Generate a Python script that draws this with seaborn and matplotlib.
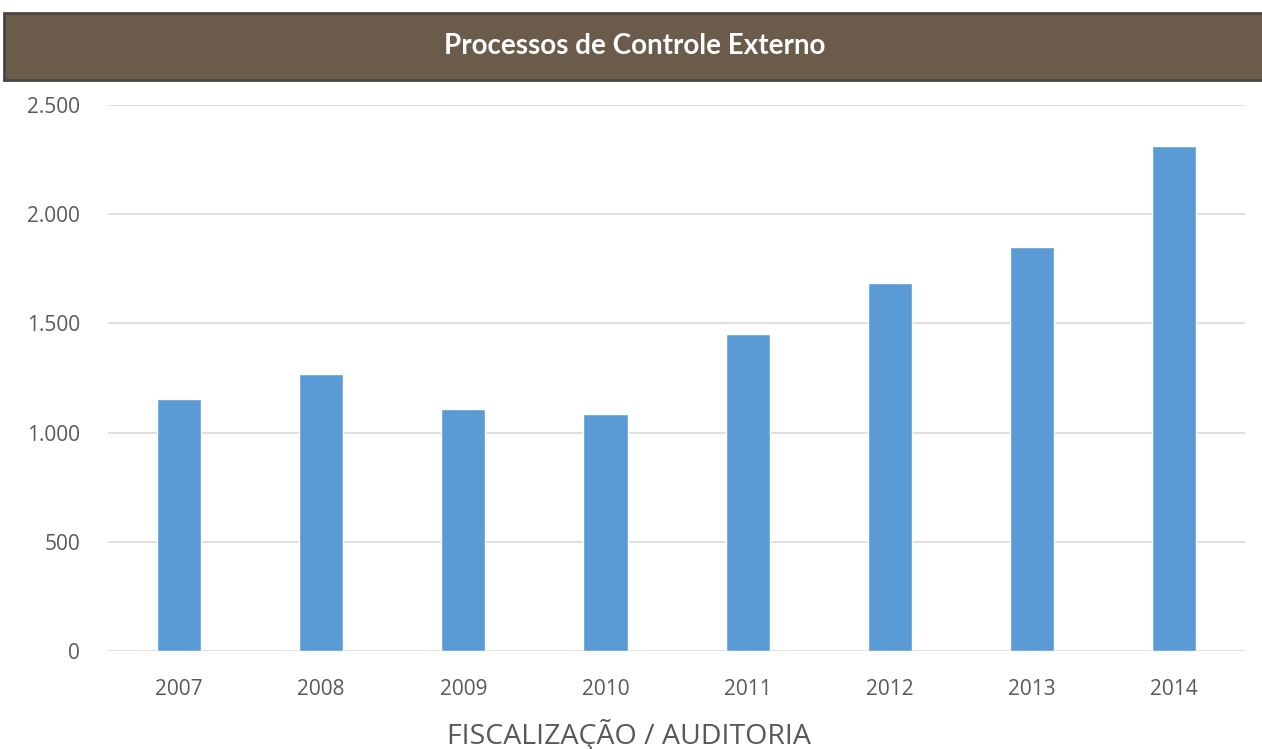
import matplotlib
matplotlib.use("Agg")
import matplotlib.pyplot as plt
from matplotlib.patches import Rectangle
from matplotlib.ticker import FuncFormatter
import seaborn as sns
import pandas as pd

# data
anos = ["2007", "2008", "2009", "2010", "2011", "2012", "2013", "2014"]
processos = [1155, 1268, 1110, 1083, 1450, 1683, 1852, 2313]
y_ticks = [0, 500, 1000, 1500, 2000, 2500]

titulo = "Processos de Controle Externo"
rotulo_x = "FISCALIZAÇÃO / AUDITORIA"

df = pd.DataFrame({"ano": anos, "processos": processos})

sns.set_theme(style="white")
plt.rcParams["font.family"] = ["Open Sans", "DejaVu Sans"]

fig = plt.figure(figsize=(12.62, 7.49), dpi=100)
ax = fig.add_axes([0.0856, 0.1308, 0.901, 0.729])

sns.barplot(data=df, x="ano", y="processos", color="#5b9bd5", width=0.31,
            saturation=1, ax=ax, zorder=3)

ax.set_ylim(0, 2500)
ax.set_yticks(y_ticks)
ax.yaxis.set_major_formatter(FuncFormatter(lambda v, p: f"{int(v):,}".replace(",", ".")))
ax.grid(axis="y", color="#d9d9d9", linewidth=1.2, zorder=0)
ax.grid(axis="x", visible=False)
for s in ax.spines.values():
    s.set_visible(False)
ax.tick_params(axis="both", length=0, labelsize=15, labelcolor="#595959")
ax.tick_params(axis="x", pad=20)
ax.tick_params(axis="y", pad=20)
ax.set_xlabel("")
ax.set_ylabel("")

# brown header band
fig.patches.append(Rectangle((0.003, 0.893), 1.0, 0.0896, transform=fig.transFigure,
                             facecolor="#6b5b4b", edgecolor="#4a4540", linewidth=2))
fig.text(0.503, 0.9386, titulo, ha="center", va="center", color="white",
         fontsize=20, fontweight="bold", family=["Lato", "DejaVu Sans"])

fig.text(0.498, 0.0187, rotulo_x, ha="center", va="center", color="#595959",
         fontsize=20.5)

fig.savefig("out.png", dpi=100)
